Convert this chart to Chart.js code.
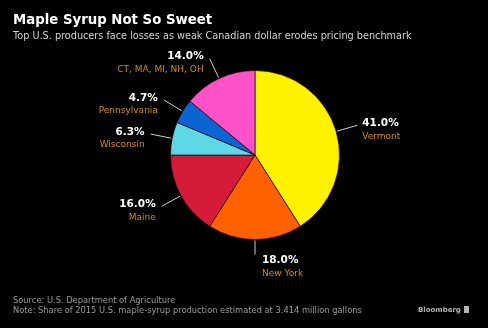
<!DOCTYPE html>
<html lang="en">
<head>
<meta charset="UTF-8">
<title>Maple Syrup Not So Sweet</title>
<script src="https://cdn.jsdelivr.net/npm/chart.js"></script>
<style>
    html, body { margin: 0; padding: 0; background: #000; }
    #wrap { width: 488px; height: 328px; }
</style>
</head>
<body>
<div id="wrap"><canvas id="pie" width="488" height="328"></canvas></div>
<script>
    // slice order: clockwise from 12 o'clock
    const states = ['Vermont', 'New York', 'Maine', 'Wisconsin', 'Pennsylvania', 'CT, MA, MI, NH, OH'];
    const shares = [41.0, 18.0, 16.0, 6.3, 4.7, 14.0];
    const sliceColors = ['#fff200', '#ff6000', '#d41c3a', '#5fd8e6', '#0a64d2', '#ff52c8'];

    const FONT = "'DejaVu Sans', Verdana, sans-serif";

    // titles, footer and the outside labels with leader lines
    const decor = {
        id: 'decor',
        beforeDraw(chart) {
            const c = chart.ctx;
            c.save();
            c.fillStyle = '#000';
            c.fillRect(0, 0, chart.width, chart.height);
            c.restore();
        },
        afterDraw(chart) {
            const c = chart.ctx;
            c.save();
            c.textBaseline = 'middle';
            c.textAlign = 'left';

            c.fillStyle = '#fff';
            c.font = 'bold 13.3px ' + FONT;
            c.fillText('Maple Syrup Not So Sweet', 13, 21);
            c.fillStyle = '#d2d2d2';
            c.font = '9.7px ' + FONT;
            c.fillText('Top U.S. producers face losses as weak Canadian dollar erodes pricing benchmark', 13, 36);

            c.fillStyle = '#9a9a9a';
            c.font = '8.3px ' + FONT;
            c.fillText('Source: U.S. Department of Agriculture', 13, 301);
            c.fillText('Note: Share of 2015 U.S. maple-syrup production estimated at 3.414 million gallons', 13, 311);
            c.fillStyle = '#b4b4b4';
            c.font = 'bold 7px ' + FONT;
            c.fillText('Bloomberg', 418, 310);
            c.fillRect(464, 306, 5, 7);

            const meta = chart.getDatasetMeta(0);
            meta.data.forEach((arc, i) => {
                const mid = (arc.startAngle + arc.endAngle) / 2;
                const cos = Math.cos(mid), sin = Math.sin(mid);
                const r = arc.outerRadius;
                const bottom = sin > 0.95;
                const r2 = bottom ? r + 15 : r + 22;
                const x1 = arc.x + cos * (r + 1), y1 = arc.y + sin * (r + 1);
                const x2 = arc.x + cos * r2, y2 = arc.y + sin * r2;

                c.strokeStyle = '#cfcfcf';
                c.lineWidth = 1;
                c.beginPath();
                c.moveTo(x1, y1);
                c.lineTo(x2, y2);
                c.stroke();

                let tx, ty, align;
                if (bottom) {
                    tx = x2 + 7; ty = y2 + 6; align = 'left';
                } else if (cos >= 0) {
                    tx = x2 + 5; ty = y2 - 2; align = 'left';
                } else {
                    tx = x2 - 6; ty = y2 - 2; align = 'right';
                }
                c.textAlign = align;
                c.fillStyle = '#ffffff';
                c.font = 'bold 10.5px ' + FONT;
                c.fillText(shares[i].toFixed(1) + '%', tx, ty);
                c.fillStyle = '#d08a1a';
                c.font = '9px ' + FONT;
                c.fillText(states[i], tx, ty + 13);
            });
            c.restore();
        }
    };

    new Chart(document.getElementById('pie'), {
        type: 'pie',
        data: {
            labels: states,
            datasets: [{
                data: shares,
                backgroundColor: sliceColors,
                borderColor: 'rgba(40,0,0,0.7)',
                borderWidth: 1
            }]
        },
        options: {
            responsive: false,
            animation: false,
            layout: { padding: { top: 70, bottom: 88, left: 170, right: 148 } },
            plugins: {
                legend: { display: false },
                tooltip: { enabled: false }
            }
        },
        plugins: [decor]
    });
</script>
</body>
</html>
